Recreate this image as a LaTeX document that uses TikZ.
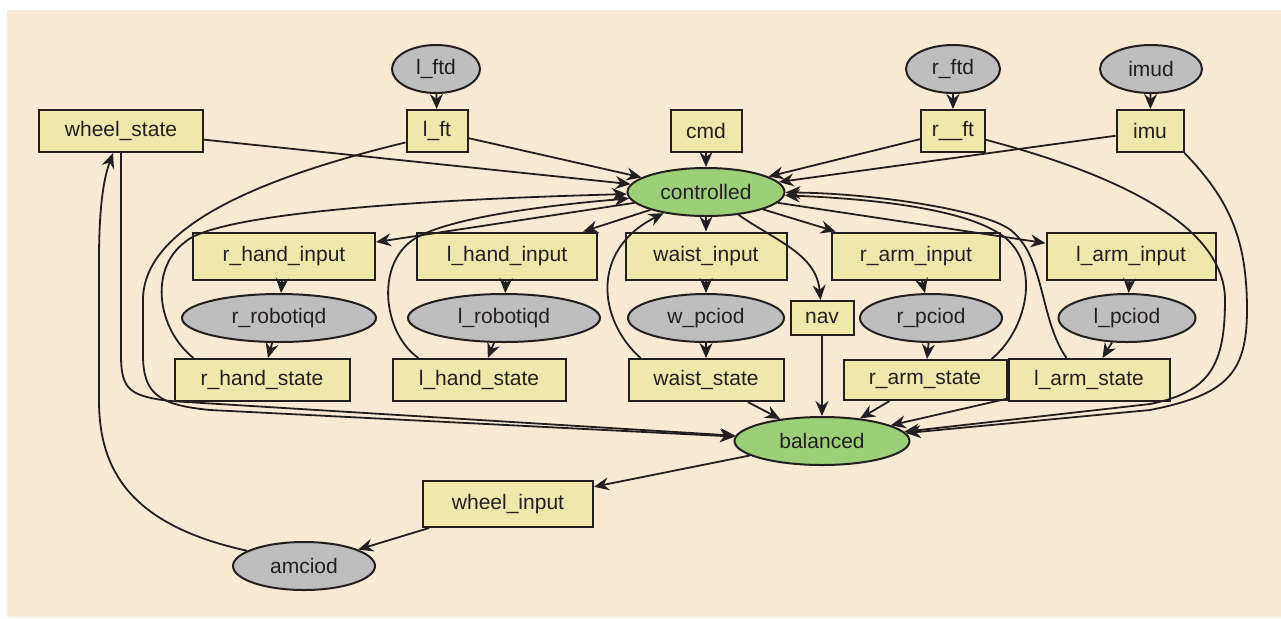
\documentclass[tikz,border=0pt]{standalone}
\usepackage{fontspec}
\setmainfont{Liberation Sans}
\usetikzlibrary{arrows.meta, shapes.geometric}
\definecolor{bgbeige}{HTML}{F9EAD3}
\definecolor{inkgrey}{HTML}{231F20}
\definecolor{topicyellow}{HTML}{EEE8AA}
\definecolor{drivergrey}{HTML}{BEBEBE}
\definecolor{modegreen}{HTML}{9BD078}
\tikzset{topic/.style={draw=inkgrey, fill=topicyellow, line width=1pt, inner sep=0pt, minimum height=21pt}}
\tikzset{driver/.style={ellipse, draw=inkgrey, fill=drivergrey, line width=1pt, inner sep=0pt, minimum height=24pt}}
\tikzset{mode/.style={ellipse, draw=inkgrey, fill=modegreen, line width=1pt, inner sep=0pt, minimum height=24pt}}
\tikzset{flow/.style={draw=inkgrey, line width=0.9pt, -{Stealth[length=7.5pt, width=6.5pt, inset=2.5pt]}}}

\begin{document}
\begin{tikzpicture}[x=0.5pt, y=-0.5pt, every node/.style={font=\fontsize{10.5}{12}\selectfont, text=inkgrey}]
            \useasboundingbox (0, 0) rectangle (1281, 618);
            \fill[bgbeige] (7, 10) rectangle (1281, 617);
            % top row
            \node[driver, minimum width=44pt] (l_ftd) at (436, 69) {l\_ftd};
            \node[driver, minimum width=47pt] (r_ftd) at (953, 69) {r\_ftd};
            \node[driver, minimum width=51pt] (imud) at (1151, 69) {imud};
            \node[topic, minimum width=82pt] (wheel_state) at (121, 131) {wheel\_state};
            \node[topic, minimum width=30.5pt] (l_ft) at (437, 131) {l\_ft};
            \node[topic, minimum width=35.5pt] (cmd) at (706, 131) {cmd};
            \node[topic, minimum width=32pt] (r_ft) at (953, 131) {r\_\_ft\hspace{5pt}};
            \node[topic, minimum width=33.5pt] (imu) at (1150, 131) {imu};
            \node[mode, minimum width=78.5pt] (controlled) at (706, 192) {controlled};
            % inputs, drivers, states
            \node[topic, minimum width=91pt, minimum height=23.5pt] (r_hand_input) at (284, 256) {r\_hand\_input};
            \node[topic, minimum width=90pt, minimum height=23.5pt] (l_hand_input) at (507, 256) {l\_hand\_input};
            \node[topic, minimum width=80.5pt, minimum height=23.5pt] (waist_input) at (706, 256) {waist\_input};
            \node[topic, minimum width=84pt, minimum height=23.5pt] (r_arm_input) at (916, 256) {r\_arm\_input};
            \node[topic, minimum width=84.5pt, minimum height=23.5pt] (l_arm_input) at (1131, 256) {l\_arm\_input};
            \node[driver, minimum width=97pt] (r_robotiqd) at (279, 318) {r\_robotiqd};
            \node[driver, minimum width=96pt] (l_robotiqd) at (504, 318) {l\_robotiqd};
            \node[driver, minimum width=78pt] (w_pciod) at (706, 318) {w\_pciod};
            \node[topic, minimum width=31.5pt, minimum height=17pt] (nav) at (822, 318) {nav};
            \node[driver, minimum width=71pt] (r_pciod) at (931, 318) {r\_pciod};
            \node[driver, minimum width=68.5pt] (l_pciod) at (1127, 318) {l\_pciod};
            \node[topic, minimum width=87.5pt] (r_hand_state) at (262, 380) {r\_hand\_state};
            \node[topic, minimum width=86.5pt] (l_hand_state) at (479, 380) {l\_hand\_state};
            \node[topic, minimum width=77.5pt] (waist_state) at (706, 380) {waist\_state};
            \node[topic, minimum width=81.5pt, minimum height=20pt] (r_arm_state) at (925, 380) {r\_arm\_state};
            \node[topic, minimum width=80.5pt] (l_arm_state) at (1089, 380) {l\_arm\_state};
            \node[mode, minimum width=87.5pt] (balanced) at (822, 441) {balanced};
            \node[topic, minimum width=85pt, minimum height=23pt] (wheel_input) at (508, 504) {wheel\_input};
            \node[driver, minimum width=71pt] (amciod) at (304, 566) {amciod};
            % straight links
            \draw[flow] (l_ftd) -- (l_ft);
            \draw[flow] (r_ftd) -- (r_ft);
            \draw[flow] (imud) -- (imu);
            \draw[flow] (cmd) -- (controlled);
            \draw[flow] (wheel_state) -- (controlled);
            \draw[flow] (l_ft) -- (controlled);
            \draw[flow] (r_ft) -- (controlled);
            \draw[flow] (imu) -- (controlled);
            \draw[flow] (controlled) -- (r_hand_input);
            \draw[flow] (controlled) -- (l_hand_input);
            \draw[flow] (controlled) -- (waist_input);
            \draw[flow] (controlled) -- (r_arm_input);
            \draw[flow] (controlled) -- (l_arm_input);
            \draw[flow] (controlled) to[out=-35, in=95] (nav);
            \draw[flow] (r_hand_input) -- (r_robotiqd);
            \draw[flow] (r_robotiqd) -- (r_hand_state);
            \draw[flow] (l_hand_input) -- (l_robotiqd);
            \draw[flow] (l_robotiqd) -- (l_hand_state);
            \draw[flow] (waist_input) -- (w_pciod);
            \draw[flow] (w_pciod) -- (waist_state);
            \draw[flow] (r_arm_input) -- (r_pciod);
            \draw[flow] (r_pciod) -- (r_arm_state);
            \draw[flow] (l_arm_input) -- (l_pciod);
            \draw[flow] (l_pciod) -- (l_arm_state);
            \draw[flow] (waist_state) -- (balanced);
            \draw[flow] (nav) -- (balanced);
            \draw[flow] (r_arm_state) -- (balanced);
            \draw[flow] (l_arm_state) -- (balanced);
            \draw[flow] (balanced) -- (wheel_input);
            \draw[flow] (wheel_input) -- (amciod);
            % feedback loops
            \draw[flow] ([xshift=10pt]r_hand_state.north west) .. controls (158, 330) and (148, 270) .. (185, 242) .. controls (215, 215) and (400, 200) .. (controlled);
            \draw[flow] ([xshift=13.5pt]l_hand_state.north west) .. controls (385, 335) and (375, 270) .. (410, 242) .. controls (440, 218) and (550, 205) .. (controlled);
            \draw[flow] ([xshift=6.5pt]waist_state.north west) .. controls (598, 320) and (590, 250) .. (controlled);
            \draw[flow] ([xshift=-8pt]r_arm_state.north east) .. controls (1027, 330) and (1042, 265) .. (1003, 236) .. controls (960, 205) and (850, 198) .. (controlled);
            \draw[flow] ([xshift=29.5pt]l_arm_state.north west) .. controls (1040, 320) and (1045, 260) .. (1013, 232) .. controls (990, 210) and (870, 193) .. (controlled);
            % long links
            \draw[flow] (l_ft.200) .. controls (250, 180) and (143, 230) .. (143, 300) -- (143, 355) .. controls (143, 395) and (160, 405) .. (210, 410) -- (balanced);
            \draw[flow] (wheel_state.south) -- (121, 355) .. controls (121, 390) and (130, 396) .. (170, 401) -- (balanced);
            \draw[flow] (r_ft.-15) .. controls (1100, 170) and (1225, 220) .. (1225, 300) .. controls (1225, 365) and (1210, 392) .. (1150, 404) -- (balanced);
            \draw[flow] (imu.south east) .. controls (1230, 200) and (1247, 240) .. (1247, 310) .. controls (1247, 375) and (1225, 395) .. (1150, 410) -- (balanced);
            \draw[flow] (amciod.165) .. controls (130, 525) and (99, 470) .. (99, 400) -- (99, 260) .. controls (99, 200) and (105, 175) .. ([xshift=-4pt]wheel_state.south);
\end{tikzpicture}
\end{document}
